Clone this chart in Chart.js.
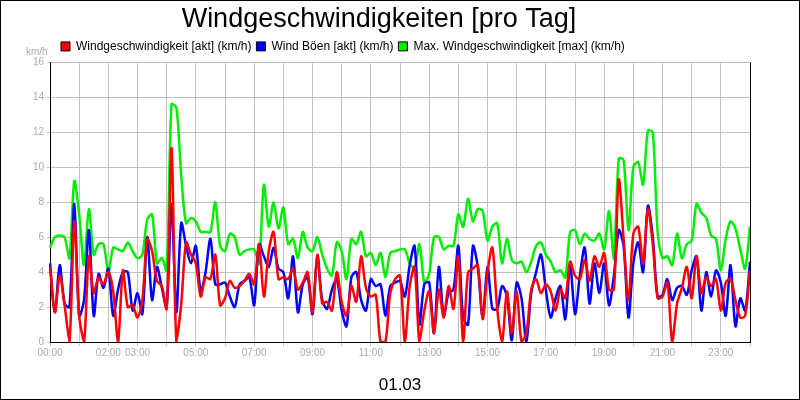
<!DOCTYPE html>
<html>
<head>
<meta charset="utf-8">
<script src="https://cdn.jsdelivr.net/npm/chart.js@4"></script>
<style>
  html, body { margin: 0; padding: 0; background: #fff; }
  #wrap { width: 800px; height: 400px; }
</style>
</head>
<body>
<div id="wrap"><canvas id="windChart" width="800" height="400"></canvas></div>
<script>
// 10-minute steps, 00:00 .. 24:00
const times = [];
for (let m = 0; m <= 24 * 60; m += 10) {
  times.push(String(Math.floor(m / 60)).padStart(2, "0") + ":" + String(m % 60).padStart(2, "0"));
}
const tickLabels = ["00:00", "02:00", "03:00", "05:00", "07:00", "09:00", "11:00", "13:00", "15:00", "17:00", "19:00", "21:00", "23:00"];

const windSpeed = [
  4.3, 1.7, 3.8, 2.1, 0, 6.9, 1.5, 0, 4.9, 2.8, 3.7, 3.3, 4.0, 2.9, 0, 4.1, 2.0, 2.1, 1.4, 2.4,
  5.9, 5.2, 3.5, 3.2, 1.9, 11.1, 0, 2.2, 5.7, 5.0, 4.5, 2.6, 3.7, 3.6, 5.0, 2.1, 2.5, 3.5, 3.1, 3.2,
  3.5, 3.9, 3.3, 5.6, 2.6, 5.2, 6.3, 3.6, 3.7, 3.6, 4.2, 3.0, 3.4, 4.0, 1.7, 5.0, 2.2, 2.3, 1.8, 4.0,
  2.3, 1.5, 3.2, 2.3, 4.9, 3.1, 2.6, 2.7, 0, 0, 2.8, 3.6, 3.8, 0, 3.2, 4.3, 0, 1.8, 2.9, 0.5,
  3.0, 1.4, 3.2, 1.9, 4.9, 0, 4.0, 4.2, 4.4, 1.3, 4.0, 5.4, 1.9, 0, 2.9, 0.5, 2.9, 0, 0.5, 3.0,
  3.6, 2.8, 3.3, 2.9, 1.8, 3.0, 2.5, 4.6, 3.8, 3.6, 4.7, 3.5, 4.9, 4.3, 5.1, 3.0, 3.0, 9.3, 5.9, 2.4,
  6.2, 6.6, 4.5, 7.6, 5.6, 2.5, 2.6, 3.4, 0, 2.2, 3.1, 4.3, 2.5, 4.9, 2.8, 3.7, 3.2, 3.6, 1.8, 3.4,
  3.6, 2.4, 1.4, 1.5, 4.1
];
const gusts = [
  4.5, 1.7, 4.4, 2.2, 2.0, 7.9, 1.5, 2.4, 6.4, 1.5, 3.9, 3.1, 4.2, 1.5, 3.0, 4.0, 4.0, 1.8, 2.8, 1.6,
  6.0, 2.4, 4.3, 3.1, 2.0, 7.9, 1.7, 6.8, 5.5, 4.5, 5.5, 2.9, 4.0, 5.9, 3.3, 3.3, 3.4, 2.6, 2.0, 3.3,
  3.5, 3.7, 2.1, 5.6, 4.9, 4.3, 5.4, 4.2, 4.0, 2.5, 4.9, 1.7, 3.3, 3.7, 1.6, 4.9, 2.4, 1.9, 3.0, 3.6,
  1.8, 0.9, 3.7, 4.0, 2.4, 1.8, 3.6, 3.2, 3.3, 1.5, 3.2, 3.4, 3.5, 2.6, 4.4, 5.5, 1.0, 3.3, 3.4, 0.5,
  4.3, 1.5, 2.8, 3.0, 5.5, 1.4, 1.0, 5.5, 4.3, 1.4, 4.3, 1.9, 1.9, 3.2, 2.6, 0.1, 3.4, 2.5, 0, 2.8,
  4.0, 5.0, 3.0, 1.4, 2.5, 3.2, 1.3, 4.4, 1.6, 3.8, 5.4, 2.2, 4.5, 2.8, 4.5, 2.1, 3.8, 6.4, 5.5, 1.4,
  4.5, 5.7, 4.0, 7.8, 6.0, 2.6, 2.7, 3.6, 2.4, 3.1, 3.2, 2.7, 4.1, 4.9, 1.8, 4.0, 2.6, 4.1, 3.4, 1.5,
  4.4, 0.9, 2.5, 1.8, 4.6
];
const maxSpeed = [
  5.4, 6.0, 6.1, 6.0, 4.8, 9.2, 7.3, 4.4, 7.6, 5.0, 5.6, 5.6, 4.0, 5.4, 5.3, 5.2, 5.7, 5.2, 4.8, 5.0,
  7.0, 7.3, 4.5, 4.8, 4.1, 13.6, 13.4, 9.5, 6.8, 7.1, 6.9, 6.3, 6.3, 6.3, 8.0, 5.5, 5.2, 6.2, 6.0, 5.0,
  5.2, 5.3, 5.3, 4.5, 9.0, 6.6, 8.0, 6.5, 7.7, 5.6, 5.9, 4.8, 6.3, 5.4, 5.2, 6.0, 5.0, 4.2, 3.8, 5.7,
  5.2, 3.6, 5.9, 5.6, 6.3, 4.9, 5.1, 4.4, 5.1, 3.7, 5.1, 5.2, 5.3, 5.3, 4.5, 4.2, 5.6, 3.4, 3.9, 6.0,
  6.0, 5.3, 5.5, 5.5, 7.3, 6.6, 8.2, 6.9, 7.6, 7.5, 5.8, 6.6, 6.8, 4.5, 5.9, 4.7, 4.5, 4.6, 4.0, 4.6,
  5.5, 5.7, 5.0, 4.6, 4.0, 4.1, 3.7, 6.3, 6.4, 5.6, 6.2, 5.9, 5.8, 6.2, 5.3, 7.5, 4.8, 10.5, 10.4, 6.4,
  10.0, 10.3, 9.0, 12.1, 12.0, 6.3, 4.8, 4.9, 4.4, 6.2, 4.8, 5.6, 5.8, 7.9, 7.4, 7.1, 6.1, 5.9, 4.1, 5.9,
  6.9, 6.5, 5.3, 4.2, 6.6
];

const frame = {
  id: "frame",
  afterLayout(chart) {
    // push the legend row right so it starts near the plot's left edge
    chart.legend.left += 48;
    chart.legend.right += 48;
  },
  beforeDraw(chart) {
    const c = chart.ctx;
    c.save();
    c.fillStyle = "#fff";
    c.fillRect(0, 0, chart.width, chart.height);
    c.restore();
  },
  afterDraw(chart) {
    const c = chart.ctx;
    const a = chart.chartArea;
    c.save();
    c.strokeStyle = "#000";
    c.lineWidth = 1;
    c.strokeRect(0.5, 0.5, chart.width - 1, chart.height - 1);
    c.beginPath();
    c.moveTo(a.right + 0.5, a.top);
    c.lineTo(a.right + 0.5, a.bottom);
    c.stroke();
    c.fillStyle = "#aaa";
    c.font = "10px 'Liberation Sans', Arial, sans-serif";
    c.textAlign = "left";
    c.fillText("km/h", 26, 52);
    c.restore();
  }
};

const ctx = document.getElementById("windChart");

new Chart(ctx, {
  type: "line",
  data: {
    labels: times,
    datasets: [
      { label: "Windgeschwindigkeit [akt] (km/h)", data: windSpeed, borderColor: "#ff0000", backgroundColor: "#ff0000" },
      { label: "Wind Böen [akt] (km/h)", data: gusts, borderColor: "#0000ff", backgroundColor: "#0000ff" },
      { label: "Max. Windgeschwindigkeit [max] (km/h)", data: maxSpeed, borderColor: "#00ee00", backgroundColor: "#00ee00" },
    ],
  },
  options: {
    responsive: false,
    animation: false,
    devicePixelRatio: 1,
    layout: { padding: { left: 8, right: 50, top: 0, bottom: 0 } },
    elements: {
      line: { borderWidth: 2.5, tension: 0.3 },
      point: { radius: 0 },
    },
    plugins: {
      title: {
        display: true,
        text: "Windgeschwindigkeiten [pro Tag]",
        color: "#000",
        font: { family: "'Liberation Sans', Arial, sans-serif", size: 27, weight: "normal" },
        padding: { top: 3, bottom: 0 },
      },
      legend: {
        align: "start",
        labels: {
          color: "#000",
          boxWidth: 9,
          boxHeight: 9,
          padding: 5,
          font: { family: "'Liberation Sans', Arial, sans-serif", size: 12 },
          generateLabels: (chart) =>
            Chart.defaults.plugins.legend.labels.generateLabels(chart).map((l) => ({
              ...l,
              strokeStyle: "#000",
              lineWidth: 1,
            })),
        },
      },
      tooltip: { enabled: false },
    },
    scales: {
      x: {
        afterFit: (s) => { s.height = 58; },
        border: { color: "#000", width: 1 },
        grid: {
          color: (c) => (c.index % 6 === 0 ? "#c0c0c0" : "rgba(0,0,0,0)"),
          tickLength: 4,
        },
        ticks: {
          autoSkip: false,
          maxRotation: 0,
          color: "#aaa",
          font: { family: "'Liberation Sans', Arial, sans-serif", size: 10 },
          padding: 1,
          callback: (v, i) => (tickLabels.includes(times[i]) ? times[i] : ""),
        },
        title: {
          display: true,
          text: "01.03",
          color: "#000",
          font: { family: "'Liberation Sans', Arial, sans-serif", size: 17 },
          padding: { top: 8 },
        },
      },
      y: {
        min: 0,
        max: 16,
        afterFit: (s) => { s.width = 42; },
        border: { color: "#000", width: 1 },
        grid: { color: "#c0c0c0", tickLength: 3 },
        ticks: {
          stepSize: 2,
          color: "#aaa",
          font: { family: "'Liberation Sans', Arial, sans-serif", size: 10 },
          padding: 3,
        },
      },
    },
  },
  plugins: [frame],
});
</script>
</body>
</html>
